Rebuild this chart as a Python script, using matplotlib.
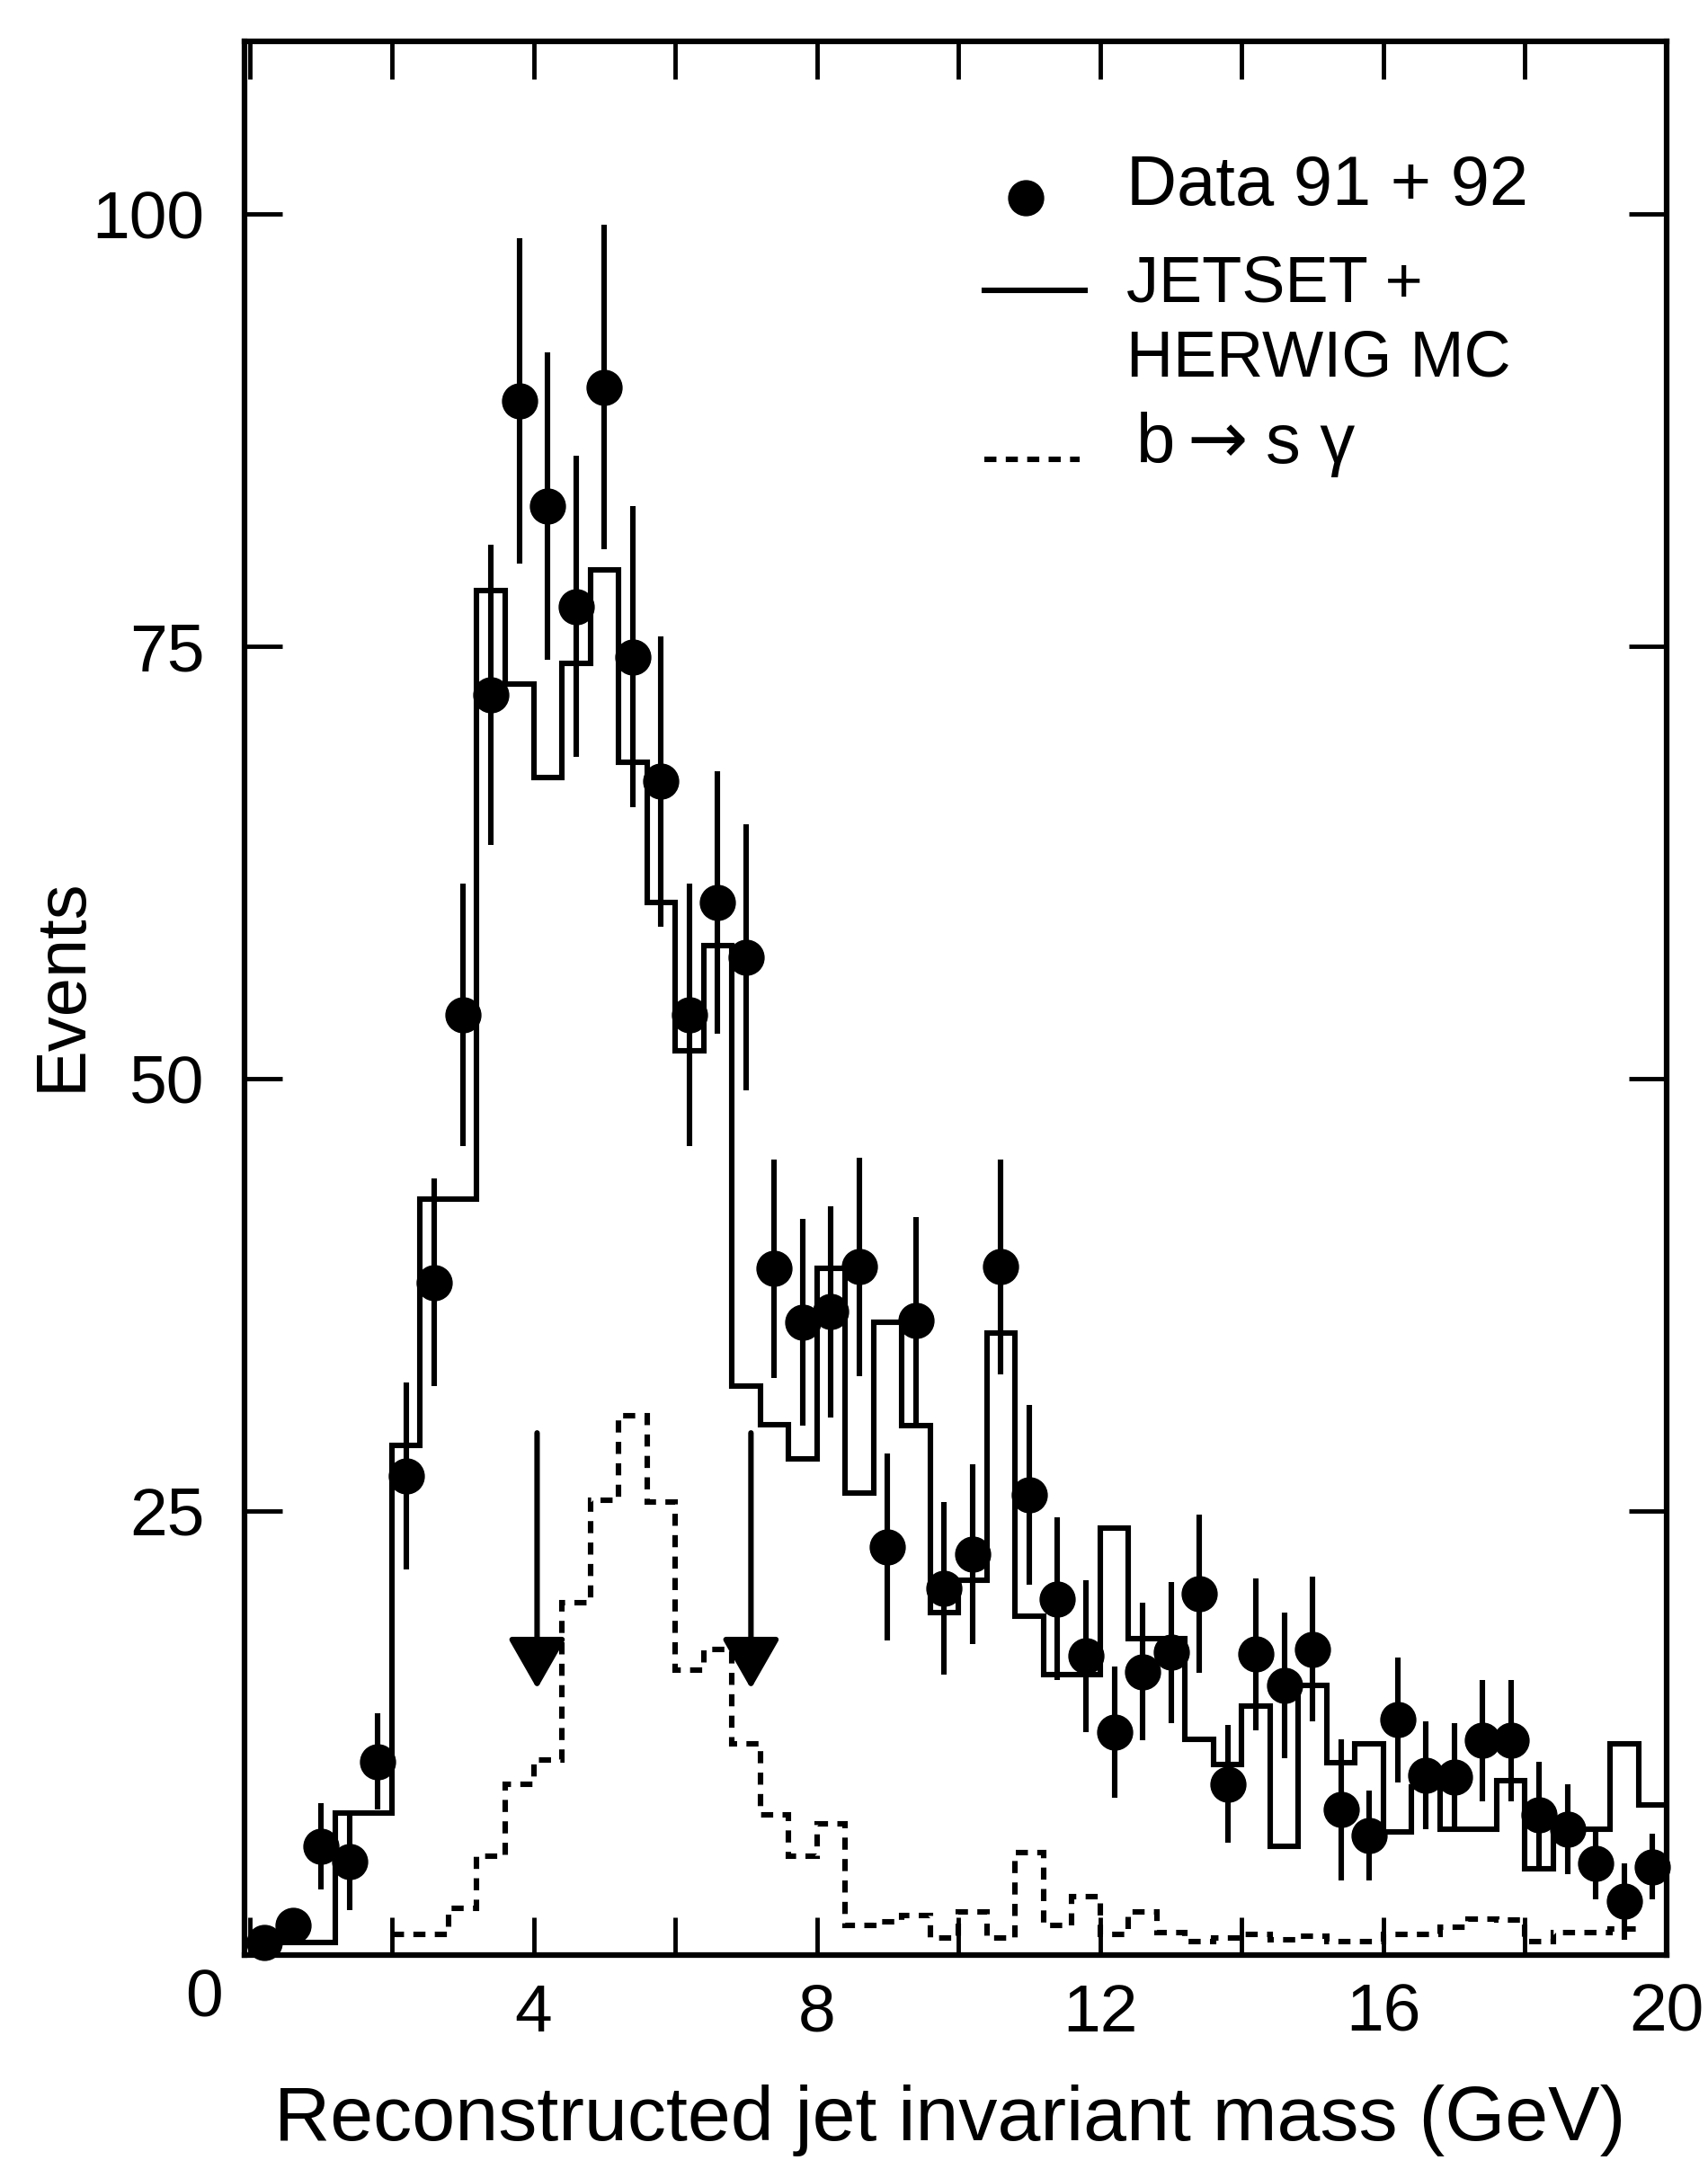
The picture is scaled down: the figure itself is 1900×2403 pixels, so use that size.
## jet invariant mass distribution, data vs MC with b -> s gamma signal

import numpy as np
import matplotlib
matplotlib.use("Agg")
import matplotlib.pyplot as plt
import matplotlib.transforms as mtransforms
from matplotlib import rcParams

config = {"font.family": ["Liberation Sans", "DejaVu Sans"],
          "axes.linewidth": 4.5,
          "xtick.direction": "in", "ytick.direction": "in",
          "xtick.major.size": 30, "ytick.major.size": 30,
          "xtick.major.width": 3.5, "ytick.major.width": 3.5}
rcParams.update(config)

# 0.4 GeV bins from 0 to 20 GeV
bin_edges = np.round(np.arange(0.0, 20.01, 0.4), 1)
bin_centres = bin_edges[:-1] + 0.2

# data 91 + 92, one value per bin
data_events = [0, 1, 5.6, 4.7, 10.5, 27.0, 38.2, 53.7, 72.2, 89.2,
               83.1, 77.3, 90.0, 74.4, 67.2, 53.7, 60.2, 57.0, 39.0, 35.9,
               36.5, 39.1, 22.9, 36.0, 20.5, 22.5, 39.1, 25.9, 19.9, 16.6,
               12.2, 15.7, 16.8, 20.2, 9.2, 16.7, 14.9, 17.0, 7.7, 6.2,
               12.9, 9.7, 9.6, 11.7, 11.7, 7.4, 6.6, 4.6, 2.4, 4.4]
data_errors = [0, 1.0, 2.5, 2.8, 2.8, 5.4, 6.0, 7.6, 8.7, 9.4,
               8.9, 8.7, 9.4, 8.7, 8.4, 7.6, 7.6, 7.7, 6.3, 6.0,
               6.1, 6.3, 5.4, 6.0, 5.0, 5.2, 6.2, 5.2, 4.7, 4.4,
               3.8, 4.0, 4.1, 4.6, 3.4, 4.4, 4.2, 4.2, 4.1, 2.6,
               3.6, 3.1, 3.1, 3.5, 3.5, 3.1, 2.6, 2.1, 2.2, 1.9]

# JETSET + HERWIG MC
mc_events = [0, 0, 0, 7.5, 7.5, 28.8, 43.0, 43.0, 78.2, 72.8,
             67.4, 74.0, 79.4, 68.3, 60.2, 51.6, 57.7, 32.2, 30.0, 28.0,
             39.0, 26.0, 35.9, 29.9, 19.1, 21.0, 35.3, 18.9, 15.5, 15.5,
             24.0, 17.6, 17.6, 11.8, 10.3, 13.7, 5.6, 14.9, 10.4, 11.5,
             6.4, 9.0, 6.6, 6.6, 9.4, 4.3, 6.6, 6.6, 11.5, 8.0]

# b -> s gamma, bins from 2.0 to 19.6 GeV
bsg_first, bsg_last = 5, 49
bsg_events = [0.5, 0.5, 2.0, 5.0, 9.2, 10.6, 19.7, 25.6, 30.5, 25.5,
              15.8, 17.0, 11.5, 7.4, 5.0, 6.9, 1.0, 1.2, 1.6, 0.3,
              1.8, 0.3, 5.2, 1.0, 2.7, 0.5, 1.8, 0.6, 0.1, 0.3,
              0.5, 0.2, 0.4, 0.1, 0.1, 0.5, 0.5, 0.9, 1.4, 1.3,
              0.1, 0.6, 0.6, 0.8]

# mass window cut arrows
arrow_mass = [4.05, 7.07]
arrow_top = 29.5
arrow_tip = 14.7

lw = 4.4
dash = (0, (2.2, 1.7))
fig = plt.figure(figsize=(19, 24.03), dpi=100)
ax = fig.add_axes([0.1432, 0.0949, 0.8326, 0.886])

ax.stairs(mc_events, bin_edges, baseline=None, color="black", lw=lw)
ax.stairs(bsg_events, bin_edges[bsg_first:bsg_last + 1], baseline=None,
          color="black", lw=lw, linestyle=dash)
ax.errorbar(bin_centres, data_events, yerr=data_errors, fmt="o", ms=28,
            color="black", elinewidth=lw, capsize=0, clip_on=False, zorder=5)

for m in arrow_mass:
    ax.annotate("", xy=(m, arrow_tip), xytext=(m, arrow_top),
                arrowprops=dict(arrowstyle="-|>,head_length=0.7,head_width=0.4",
                                mutation_scale=50, lw=lw, color="black",
                                shrinkA=0, shrinkB=0))

ax.set_xlim(-0.08, 20.0)
ax.set_ylim(-0.7, 110)
ax.set_xticks(np.arange(0, 21, 2))
ax.set_xticklabels(["0", "", "4", "", "8", "", "12", "", "16", "", "20"])
ax.set_yticks([25, 50, 75, 100])
ax.tick_params(axis="both", top=True, right=True, labelsize=54)
ax.tick_params(axis="x", pad=22)
ax.tick_params(axis="y", pad=32)
zero_label = ax.get_xticklabels()[0]
zero_label.set_transform(zero_label.get_transform() +
                         mtransforms.ScaledTranslation(-0.51, 0.16, fig.dpi_scale_trans))

fig.text(1057 / 1900, 1 - 2359 / 2403, "Reconstructed jet invariant mass (GeV)",
         fontsize=62, ha="center", va="center")
fig.text(69 / 1900, 1 - 1095 / 2403, "Events", fontsize=56, rotation=90,
         ha="center", va="center")

# legend drawn by hand
tr = ax.transAxes
ax.plot([0.549], [0.918], "o", ms=28, color="black", transform=tr, clip_on=False)
ax.text(0.620, 0.9145, "Data 91 + 92", fontsize=56, va="baseline", transform=tr)
ax.plot([0.520, 0.591], [0.870, 0.870], color="black", lw=lw, transform=tr)
ax.text(0.620, 0.864, "JETSET +", fontsize=52, va="baseline", transform=tr)
ax.text(0.620, 0.825, "HERWIG MC", fontsize=52, va="baseline", transform=tr)
ax.plot([0.520, 0.587], [0.7816, 0.7816], color="black", lw=lw,
        linestyle=dash, transform=tr)
ax.text(0.627, 0.7797, "b", fontsize=56, va="baseline", transform=tr)
ax.text(0.663, 0.7797, "\u2192", fontsize=58, va="baseline", transform=tr,
        family="DejaVu Sans")
ax.text(0.718, 0.7797, "s \u03b3", fontsize=56, va="baseline", transform=tr)

fig.savefig("out.png", dpi=100)
